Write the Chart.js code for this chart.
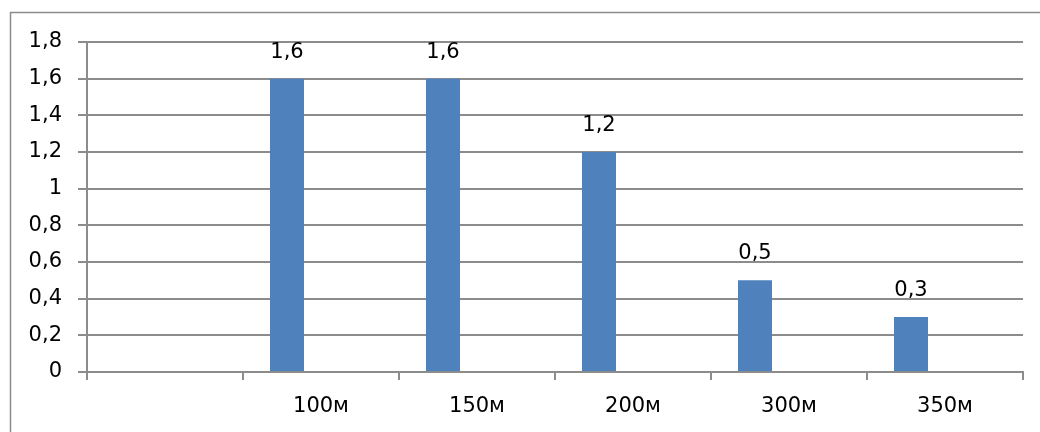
<!DOCTYPE html>
<html>
<head>
<meta charset="utf-8">
<script src="https://cdn.jsdelivr.net/npm/chart.js@4/dist/chart.umd.min.js"></script>
<style>
  html, body { margin: 0; padding: 0; background: #ffffff; }
  #wrap { width: 1040px; height: 432px; }
</style>
</head>
<body>
<div id="wrap"><canvas id="chart" width="1040" height="432"></canvas></div>
<script>
// Distances along the route and the measured values
const categories = ['', '100м', '150м', '200м', '300м', '350м'];
const series1 = [null, 1.6, 1.6, 1.2, 0.5, 0.3];
// Two further series of the sheet have no values; they keep their slots in each group
const series2 = [null, null, null, null, null, null];
const series3 = [null, null, null, null, null, null];
const yTickValues = [0, 0.2, 0.4, 0.6, 0.8, 1, 1.2, 1.4, 1.6, 1.8];

const FONT = 'DejaVu Sans';
const FONT_SIZE = 21;
const GRID = '#8c8c8c';

const fmt = v => String(+Number(v).toFixed(1)).replace('.', ',');

// Frame around the whole chart (only top and left edges fall inside the page)
const framePlugin = {
  id: 'frame',
  beforeDraw(chart) {
    const ctx = chart.ctx;
    ctx.save();
    ctx.strokeStyle = '#8c8c8c';
    ctx.lineWidth = 1.5;
    ctx.strokeRect(10.5, 12.5, 1200, 600);
    ctx.restore();
  }
};

// Value labels above each bar
const valueLabels = {
  id: 'valueLabels',
  afterDatasetsDraw(chart) {
    const ctx = chart.ctx;
    ctx.save();
    ctx.font = FONT_SIZE + 'px "' + FONT + '"';
    ctx.fillStyle = '#000000';
    ctx.textAlign = 'center';
    ctx.textBaseline = 'alphabetic';
    chart.data.datasets.forEach((ds, i) => {
      const meta = chart.getDatasetMeta(i);
      meta.data.forEach((el, j) => {
        const v = ds.data[j];
        if (v === null || v === undefined) return;
        ctx.fillText(fmt(v), el.x, el.y - 21);
      });
    });
    ctx.restore();
  }
};

new Chart(document.getElementById('chart'), {
  type: 'bar',
  data: {
    labels: categories,
    datasets: [
      { label: 'Ряд 1', data: series1, backgroundColor: '#4f81bd' },
      { label: 'Ряд 2', data: series2, backgroundColor: '#c0504d' },
      { label: 'Ряд 3', data: series3, backgroundColor: '#9bbb59' }
    ]
  },
  options: {
    responsive: false,
    animation: false,
    categoryPercentage: 0.654,
    barPercentage: 1.0,
    layout: { padding: { top: 42, right: 17, bottom: 0, left: 0 } },
    plugins: {
      legend: { display: false },
      tooltip: { enabled: false }
    },
    scales: {
      x: {
        offset: true,
        grid: {
          offset: true,
          drawOnChartArea: false,
          drawTicks: true,
          tickLength: 8,
          color: GRID,
          lineWidth: 2
        },
        border: { display: true, color: GRID, width: 2 },
        ticks: {
          font: { family: FONT, size: FONT_SIZE },
          color: '#000000',
          padding: 14,
          maxRotation: 0,
          autoSkip: false
        },
        afterFit(scale) { scale.height = 60; }
      },
      y: {
        min: 0,
        max: 1.8,
        afterBuildTicks(scale) { scale.ticks = yTickValues.map(v => ({ value: v })); },
        grid: {
          drawTicks: true,
          tickLength: 9,
          color: GRID,
          lineWidth: 2
        },
        border: { display: true, color: GRID, width: 2 },
        ticks: {
          font: { family: FONT, size: FONT_SIZE },
          color: '#000000',
          padding: 16,
          callback: v => fmt(v)
        },
        afterFit(scale) { scale.width = 87; }
      }
    }
  },
  plugins: [framePlugin, valueLabels]
});
</script>
</body>
</html>
